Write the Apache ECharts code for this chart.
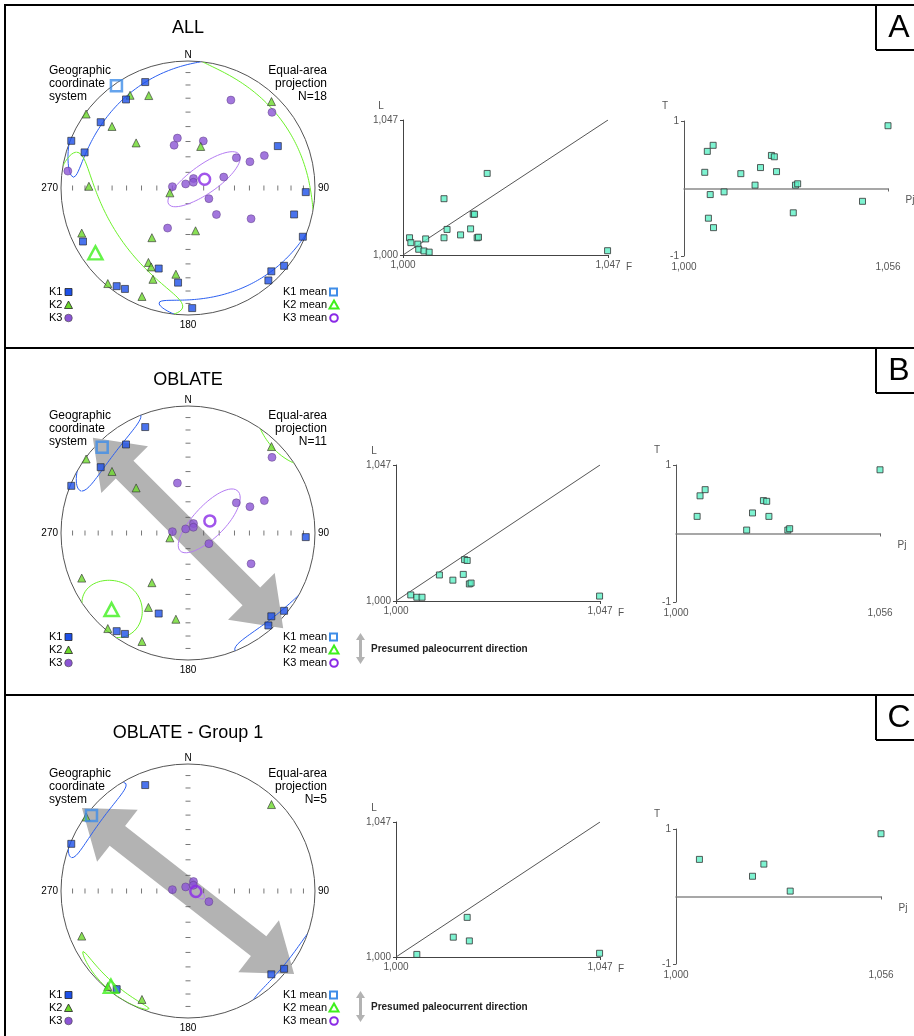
<!DOCTYPE html>
<html>
<head>
<meta charset="utf-8">
<title>AMS fabric</title>
<script src="https://cdn.jsdelivr.net/npm/echarts@6.0.0/dist/echarts.min.js"></script>
<style>
html,body{margin:0;padding:0;background:#fff;}
#chart{width:914px;height:1036px;}
</style>
</head>
<body>
<div id="chart"></div>
<script>
// ---------- AMS principal axes, [trend, plunge] in degrees ----------
const panelTitles = ['ALL', 'OBLATE', 'OBLATE - Group 1'];
const panelLetters = ['A', 'B', 'C'];
const specimenCounts = ['N=18', 'N=11', 'N=5'];

// ALL specimens
const k1A = [[338,11],[325,16],[307,15],[292,1],[289,15],[65,23],[92,8],[104,15],[113,2],[129,3],[135,8],[139,4],[243,8],[200,33],[186,26],[216,5],[212,7],[178,6]];
const k2A = [[328,15],[337,22],[306,1],[309,24],[311,45],[17,62],[44,6],[271,23],[255,78],[170,62],[216,50],[247,10],[208,34],[205,32],[201,24],[188,32],[220,2],[203,8]];
const k3A = [[26,24],[48,12],[348,57],[342,61],[18,58],[58,53],[67,46],[67,35],[278,5],[30,83],[330,87],[43,85],[275,80],[73,66],[117,75],[133,65],[116,44],[207,61]];
// OBLATE specimens
const k1B = [[338,11],[325,16],[307,15],[292,1],[92,8],[129,3],[135,8],[139,4],[216,5],[212,7],[200,33]];
const k2B = [[44,6],[306,1],[309,24],[311,45],[255,78],[247,10],[216,50],[208,34],[188,32],[220,2],[203,8]];
const k3B = [[48,12],[348,57],[58,53],[67,46],[67,35],[30,83],[330,87],[43,85],[275,80],[117,75],[116,44]];
// OBLATE - Group 1
const k1C = [[338,11],[292,1],[135,8],[129,3],[216,5]];
const k2C = [[44,6],[306,1],[247,10],[203,8],[220,2]];
const k3C = [[275,80],[330,87],[30,83],[43,85],[117,75]];

// mean directions K1, K2, K3 [trend, plunge]
const meanA = [[325,2],[235,12],[62,78]];
const meanB = [[315,5],[225,16],[61,74]];
const meanC = [[308,4],[219,4],[94,85]];

// 95% confidence semi-angles: K1 [e12,e13], K2 [e21,e23], K3 [e31,e32]
const confA = [[50,12],[52,22],[9,28]];
const confB = [[24,11],[16,22],[10,27]];
const confC = [[22,9],[21,3.5],[7,2.5]];

// presumed paleocurrent trend (degrees)
const flowTrend = [null, 135, 128];

// ---------- scalar parameters ----------
const fA = [1.0193,1.0094,1.0161,1.0164,1.0101,1.0155,1.0132,1.0094,1.0170,1.0173,1.0052,1.0015,1.0018,1.0034,1.0036,1.0048,1.0060,1.0469];
const lA = [1.0284,1.0196,1.0142,1.0142,1.0089,1.0091,1.0070,1.0060,1.0060,1.0062,1.0056,1.0060,1.0043,1.0038,1.0020,1.0014,1.0010,1.0015];
const pjA = [1.0560,1.0080,1.0064,1.0240,1.0248,1.0210,1.0057,1.0156,1.0254,1.0195,1.0306,1.0312,1.0110,1.0072,1.0490,1.0300,1.0067,1.0081];
const tA = [0.93,0.64,0.55,0.49,0.47,0.31,0.24,0.22,0.25,0.05,0.05,0.07,-0.05,-0.09,-0.19,-0.36,-0.44,-0.58];

const fB = [1.0158,1.0164,1.0100,1.0155,1.0131,1.0169,1.0173,1.0034,1.0048,1.0060,1.0469];
const lB = [1.0143,1.0140,1.0090,1.0092,1.0072,1.0059,1.0062,1.0021,1.0013,1.0013,1.0017];
const pjB = [1.0560,1.0080,1.0066,1.0240,1.0249,1.0210,1.0058,1.0255,1.0194,1.0307,1.0312];
const tB = [0.93,0.64,0.55,0.48,0.47,0.30,0.25,0.25,0.05,0.05,0.07];

const fC = [1.0164,1.0132,1.0169,1.0048,1.0469];
const lC = [1.0138,1.0069,1.0056,1.0009,1.0013];
const pjC = [1.0560,1.0064,1.0240,1.0209,1.0312];
const tC = [0.93,0.55,0.48,0.30,0.08];

const flinnRange = [1.000, 1.047];
const pjRange = [1.000, 1.056];
const tRange = [-1, 1];
const tickPlunges = [10,20,30,40,50,60,70,80];

// ---------- layout & style ----------
const FONT = '"Liberation Sans", Arial, Helvetica, sans-serif';
const NET_R = 127;
const netCenters = [[188,188],[188,533],[188,891]];
const titleY = [28, 380, 733];
const sepY = [5, 348, 695];
const flinnRects = [[403,120,205,135],[396,465,204,136],[396,822,204,135]];
const tpjRects = [[684,121,204,135],[676,465,204,137],[676,829,205,135]];
const COL = {
  k1:'#1d50e8', k2:'#6cd82a', k3:'#8b55d4',
  k1m:'#3f8de8', k2m:'#3ef01c', k3m:'#8a2ae6',
  e1:'#2b5ff0', e2:'#6cf02a', e3:'#b47cf2',
  flow:'#b3b3b3', ams:'#5ef0c6'
};

const panels = [
  {k:[k1A,k2A,k3A], mean:meanA, conf:confA, F:fA, L:lA, Pj:pjA, T:tA},
  {k:[k1B,k2B,k3B], mean:meanB, conf:confB, F:fB, L:lB, Pj:pjB, T:tB},
  {k:[k1C,k2C,k3C], mean:meanC, conf:confC, F:fC, L:lC, Pj:pjC, T:tC}
];

// ---------- lower-hemisphere equal-area helpers ----------
const D = Math.PI / 180;
const eqArea = p => Math.SQRT2 * Math.sin((90 - p) / 2 * D);
const project = tp => [eqArea(tp[1]), tp[0]];           // -> [radius, angle]
const vec = tp => [Math.cos(tp[1]*D)*Math.cos(tp[0]*D), Math.cos(tp[1]*D)*Math.sin(tp[0]*D), Math.sin(tp[1]*D)];
const dot = (a,b) => a[0]*b[0]+a[1]*b[1]+a[2]*b[2];
const norm = v => { const l = Math.hypot(v[0],v[1],v[2]); return v.map(c => c/l); };
function orth(v, basis) {
  let r = v.slice();
  basis.forEach(b => { const d = dot(r,b); r = r.map((c,i) => c - d*b[i]); });
  return norm(r);
}
// confidence cone around mean i, semi-angles toward the two other axes
function coneOutline(means, i, angles) {
  const others = [0,1,2].filter(j => j !== i);
  const m = vec(means[i]);
  const u = orth(vec(means[others[0]]), [m]);
  const w = orth(vec(means[others[1]]), [m, u]);
  const tu = Math.tan(angles[0]*D), tw = Math.tan(angles[1]*D);
  const out = [];
  let prev = null;
  for (let k = 0; k <= 720; k++) {
    const t = k / 720 * 2 * Math.PI;
    let v = norm([0,1,2].map(c => m[c] + tu*Math.cos(t)*u[c] + tw*Math.sin(t)*w[c]));
    const up = v[2] < 0;
    if (up) v = v.map(c => -c);
    if (prev !== null && up !== prev) out.push(['-','-']);
    prev = up;
    let tr = Math.atan2(v[1], v[0]) / D; if (tr < 0) tr += 360;
    out.push(project([tr, Math.asin(Math.min(1, v[2])) / D]));
  }
  return out;
}

const fmt3 = v => v.toFixed(3).replace('.', ',');

// ---------- option ----------
const series = [];
const polar = [], angleAxis = [], radiusAxis = [];
const grid = [], xAxis = [], yAxis = [];
const G = [];

const txt = (x, y, text, size, align, valign, extra) => ({
  type:'text', x, y, silent:true, z:50,
  style:Object.assign({text, fontSize:size, fontFamily:FONT, fill:'#000',
    textAlign:align || 'center', textVerticalAlign:valign || 'middle'}, extra || {})
});
const line = (x1,y1,x2,y2,w,c) => ({type:'line', silent:true, z:50,
  shape:{x1,y1,x2,y2}, style:{stroke:c || '#000', lineWidth:w || 1}});

// frame
G.push(line(5, 4, 5, 1036, 2));
G.push(line(4, 5, 914, 5, 2));
G.push(line(4, 348, 914, 348, 2));
G.push(line(4, 695, 914, 695, 2));

panels.forEach((P, i) => {
  const [cx, cy] = netCenters[i];
  // letter box
  G.push(line(876, sepY[i], 876, sepY[i] + 45, 2));
  G.push(line(876, sepY[i] + 45, 914, sepY[i] + 45, 2));
  G.push(txt(899, sepY[i] + 23, panelLetters[i], 32));

  // stereonet
  polar.push({center:[cx, cy], radius:NET_R});
  angleAxis.push({polarIndex:i, type:'value', min:0, max:360, startAngle:90, clockwise:true,
    axisLine:{lineStyle:{color:'#555', width:1}}, axisTick:{show:false},
    axisLabel:{show:false}, splitLine:{show:false}});
  radiusAxis.push({polarIndex:i, type:'value', min:0, max:1,
    axisLine:{show:false}, axisTick:{show:false}, axisLabel:{show:false}, splitLine:{show:false}});

  G.push(txt(cx, titleY[i], panelTitles[i], 18));
  G.push(txt(cx, cy - NET_R - 6, 'N', 10));
  G.push(txt(cx - NET_R - 3, cy, '270', 10, 'right'));
  G.push(txt(cx + NET_R + 3, cy, '90', 10, 'left'));
  G.push(txt(cx, cy + NET_R + 10, '180', 10));
  G.push(txt(49, cy - 124, 'Geographic\ncoordinate\nsystem', 12, 'left', 'top', {lineHeight:13}));
  G.push(txt(327, cy - 124, 'Equal-area\nprojection\n' + specimenCounts[i], 12, 'right', 'top', {lineHeight:13}));

  // legend
  const ly = [cy + 104, cy + 117, cy + 130];
  ['K1','K2','K3'].forEach((s, j) => G.push(txt(49, ly[j], s, 11, 'left')));
  G.push({type:'rect', silent:true, z:50, shape:{x:65, y:ly[0]-3.5, width:7, height:7}, style:{fill:COL.k1, stroke:'#222', lineWidth:0.8}});
  G.push({type:'polygon', silent:true, z:50, shape:{points:[[68.5,ly[1]-4],[72.5,ly[1]+3.5],[64.5,ly[1]+3.5]]}, style:{fill:COL.k2, stroke:'#222', lineWidth:0.8}});
  G.push({type:'circle', silent:true, z:50, shape:{cx:68.5, cy:ly[2], r:3.8}, style:{fill:COL.k3, stroke:'#444', lineWidth:0.6}});
  ['K1 mean','K2 mean','K3 mean'].forEach((s, j) => G.push(txt(327, ly[j], s, 11, 'right')));
  G.push({type:'rect', silent:true, z:50, shape:{x:330, y:ly[0]-3.5, width:7, height:7}, style:{fill:'none', stroke:COL.k1m, lineWidth:2}});
  G.push({type:'polygon', silent:true, z:50, shape:{points:[[334,ly[1]-4.5],[338.5,ly[1]+3.5],[329.5,ly[1]+3.5]]}, style:{fill:'none', stroke:COL.k2m, lineWidth:2}});
  G.push({type:'circle', silent:true, z:50, shape:{cx:334, cy:ly[2], r:3.8}, style:{fill:'none', stroke:COL.k3m, lineWidth:2}});

  if (flowTrend[i] !== null) {
    const ay = cy + 116;
    G.push({type:'polygon', silent:true, z:50, shape:{points:[
      [360.5,ay-16],[365,ay-9],[362,ay-9],[362,ay+8],[365,ay+8],[360.5,ay+15],
      [356,ay+8],[359,ay+8],[359,ay-9],[356,ay-9]]}, style:{fill:COL.flow}});
    G.push(txt(371, ay, 'Presumed paleocurrent direction', 10, 'left', 'middle', {fontWeight:'bold', fill:'#222'}));

    series.push({type:'custom', coordinateSystem:'polar', polarIndex:i, z:1, silent:true,
      data:[[1.06, flowTrend[i]]],
      renderItem:(params, api) => {
        const reach = api.value(0), tr = api.value(1);
        const a = api.coord([reach, tr + 180]), b = api.coord([reach, tr]);
        const dx = b[0]-a[0], dy = b[1]-a[1], len = Math.hypot(dx, dy);
        const ux = dx/len, uy = dy/len, px = -uy, py = ux;
        const hw = 12.5, HW = 33, HL = 45;
        const pt = (s, t) => [a[0]+ux*s+px*t, a[1]+uy*s+py*t];
        return {type:'polygon', shape:{points:[pt(0,0), pt(HL,HW), pt(HL,hw), pt(len-HL,hw), pt(len-HL,HW),
          pt(len,0), pt(len-HL,-HW), pt(len-HL,-hw), pt(HL,-hw), pt(HL,-HW)]}, style:{fill:COL.flow}};
      }});
  }

  // reference ticks on N-S and E-W diameters
  const tr = tickPlunges.map(eqArea);
  series.push({type:'scatter', coordinateSystem:'polar', polarIndex:i, silent:true, z:2,
    symbol:'rect', symbolSize:[5,1], itemStyle:{color:'#555'},
    data:tr.flatMap(r => [[r,0],[r,180]])});
  series.push({type:'scatter', coordinateSystem:'polar', polarIndex:i, silent:true, z:2,
    symbol:'rect', symbolSize:[1,5], itemStyle:{color:'#555'},
    data:tr.flatMap(r => [[r,90],[r,270]])});

  // confidence ellipses
  [COL.e1, COL.e2, COL.e3].forEach((c, j) => {
    series.push({type:'line', coordinateSystem:'polar', polarIndex:i, silent:true, z:3,
      showSymbol:false, symbol:'none', clip:false, animation:false,
      lineStyle:{color:c, width:1}, data:coneOutline(P.mean, j, P.conf[j])});
  });

  // specimen axes
  series.push({type:'scatter', coordinateSystem:'polar', polarIndex:i, z:4, symbol:'circle', symbolSize:8,
    itemStyle:{color:COL.k3, borderColor:'#5a3a80', borderWidth:0.6}, data:P.k[2].map(project)});
  series.push({type:'scatter', coordinateSystem:'polar', polarIndex:i, z:5, symbol:'triangle', symbolSize:8,
    itemStyle:{color:COL.k2, borderColor:'#333', borderWidth:0.8}, data:P.k[1].map(project)});
  series.push({type:'scatter', coordinateSystem:'polar', polarIndex:i, z:6, symbol:'rect', symbolSize:7,
    itemStyle:{color:COL.k1, borderColor:'#222', borderWidth:0.8}, data:P.k[0].map(project)});
  // means
  series.push({type:'scatter', coordinateSystem:'polar', polarIndex:i, z:7, symbol:'rect', symbolSize:11,
    itemStyle:{color:'rgba(0,0,0,0)', borderColor:COL.k1m, borderWidth:2.5}, data:[project(P.mean[0])]});
  series.push({type:'scatter', coordinateSystem:'polar', polarIndex:i, z:7, symbol:'triangle', symbolSize:[14,13],
    itemStyle:{color:'rgba(0,0,0,0)', borderColor:COL.k2m, borderWidth:2.5}, data:[project(P.mean[1])]});
  series.push({type:'scatter', coordinateSystem:'polar', polarIndex:i, z:7, symbol:'circle', symbolSize:11,
    itemStyle:{color:'rgba(0,0,0,0)', borderColor:COL.k3m, borderWidth:2.5}, data:[project(P.mean[2])]});

  // Flinn diagram L vs F
  const fr = flinnRects[i];
  const gi = grid.length;
  grid.push({left:fr[0], top:fr[1], width:fr[2], height:fr[3], containLabel:false, outerBoundsMode:'none'});
  const axCommon = (min, max, vals, lc) => ({gridIndex:gi, type:'value', min, max,
    axisLine:{show:true, onZero:false, lineStyle:{color:lc, width:1}},
    axisTick:{show:true, customValues:vals, length:3, lineStyle:{color:lc}},
    axisLabel:{customValues:vals, formatter:fmt3, fontSize:10, fontFamily:FONT, color:'#555', margin:5},
    splitLine:{show:false}});
  xAxis.push(axCommon(flinnRange[0], flinnRange[1], flinnRange, '#444'));
  yAxis.push(axCommon(flinnRange[0], flinnRange[1], flinnRange, '#444'));
  series.push({type:'line', xAxisIndex:gi, yAxisIndex:gi, silent:true, symbol:'none', z:2,
    lineStyle:{color:'#555', width:1}, data:[[flinnRange[0],flinnRange[0]],[flinnRange[1],flinnRange[1]]]});
  series.push({type:'scatter', xAxisIndex:gi, yAxisIndex:gi, symbol:'rect', symbolSize:6, z:3,
    itemStyle:{color:COL.ams, borderColor:'#333', borderWidth:1}, data:P.F.map((f, j) => [f, P.L[j]])});
  G.push(txt(fr[0] - 22, fr[1] - 14, 'L', 10, 'center', 'middle', {fill:'#555'}));
  G.push(txt(fr[0] + fr[2] + 21, fr[1] + fr[3] + 12, 'F', 10, 'center', 'middle', {fill:'#555'}));

  // T vs Pj
  const tp = tpjRects[i];
  const gj = grid.length;
  grid.push({left:tp[0], top:tp[1], width:tp[2], height:tp[3], containLabel:false, outerBoundsMode:'none'});
  xAxis.push({gridIndex:gj, type:'value', min:pjRange[0], max:pjRange[1],
    axisLine:{show:true, onZero:true, lineStyle:{color:'#8a8a8a', width:1.5}},
    axisTick:{show:true, customValues:pjRange, length:3, lineStyle:{color:'#666'}},
    axisLabel:{customValues:pjRange, formatter:fmt3, fontSize:10, fontFamily:FONT, color:'#555', margin:6},
    splitLine:{show:false}});
  yAxis.push({gridIndex:gj, type:'value', min:tRange[0], max:tRange[1],
    axisLine:{show:true, onZero:false, lineStyle:{color:'#555', width:1}},
    axisTick:{show:true, customValues:tRange, length:3, lineStyle:{color:'#555'}},
    axisLabel:{customValues:tRange, formatter:v => String(v), fontSize:10, fontFamily:FONT, color:'#555', margin:5},
    splitLine:{show:false}});
  series.push({type:'scatter', xAxisIndex:gj, yAxisIndex:gj, symbol:'rect', symbolSize:6, z:3,
    itemStyle:{color:COL.ams, borderColor:'#333', borderWidth:1}, data:P.Pj.map((p, j) => [p, P.T[j]])});
  const zeroY = tp[1] + tp[3] / 2;
  G.push(txt(tp[0] - 19, tp[1] - 15, 'T', 10, 'center', 'middle', {fill:'#555'}));
  G.push(txt(tp[0] + tp[2] + 22, zeroY + 12, 'Pj', 10, 'center', 'middle', {fill:'#555'}));
});

const chart = echarts.init(document.getElementById('chart'), null, {renderer:'canvas'});
chart.setOption({
  animation:false,
  backgroundColor:'#fff',
  polar, angleAxis, radiusAxis, grid, xAxis, yAxis, series,
  graphic:{elements:G}
});
</script>
</body>
</html>
